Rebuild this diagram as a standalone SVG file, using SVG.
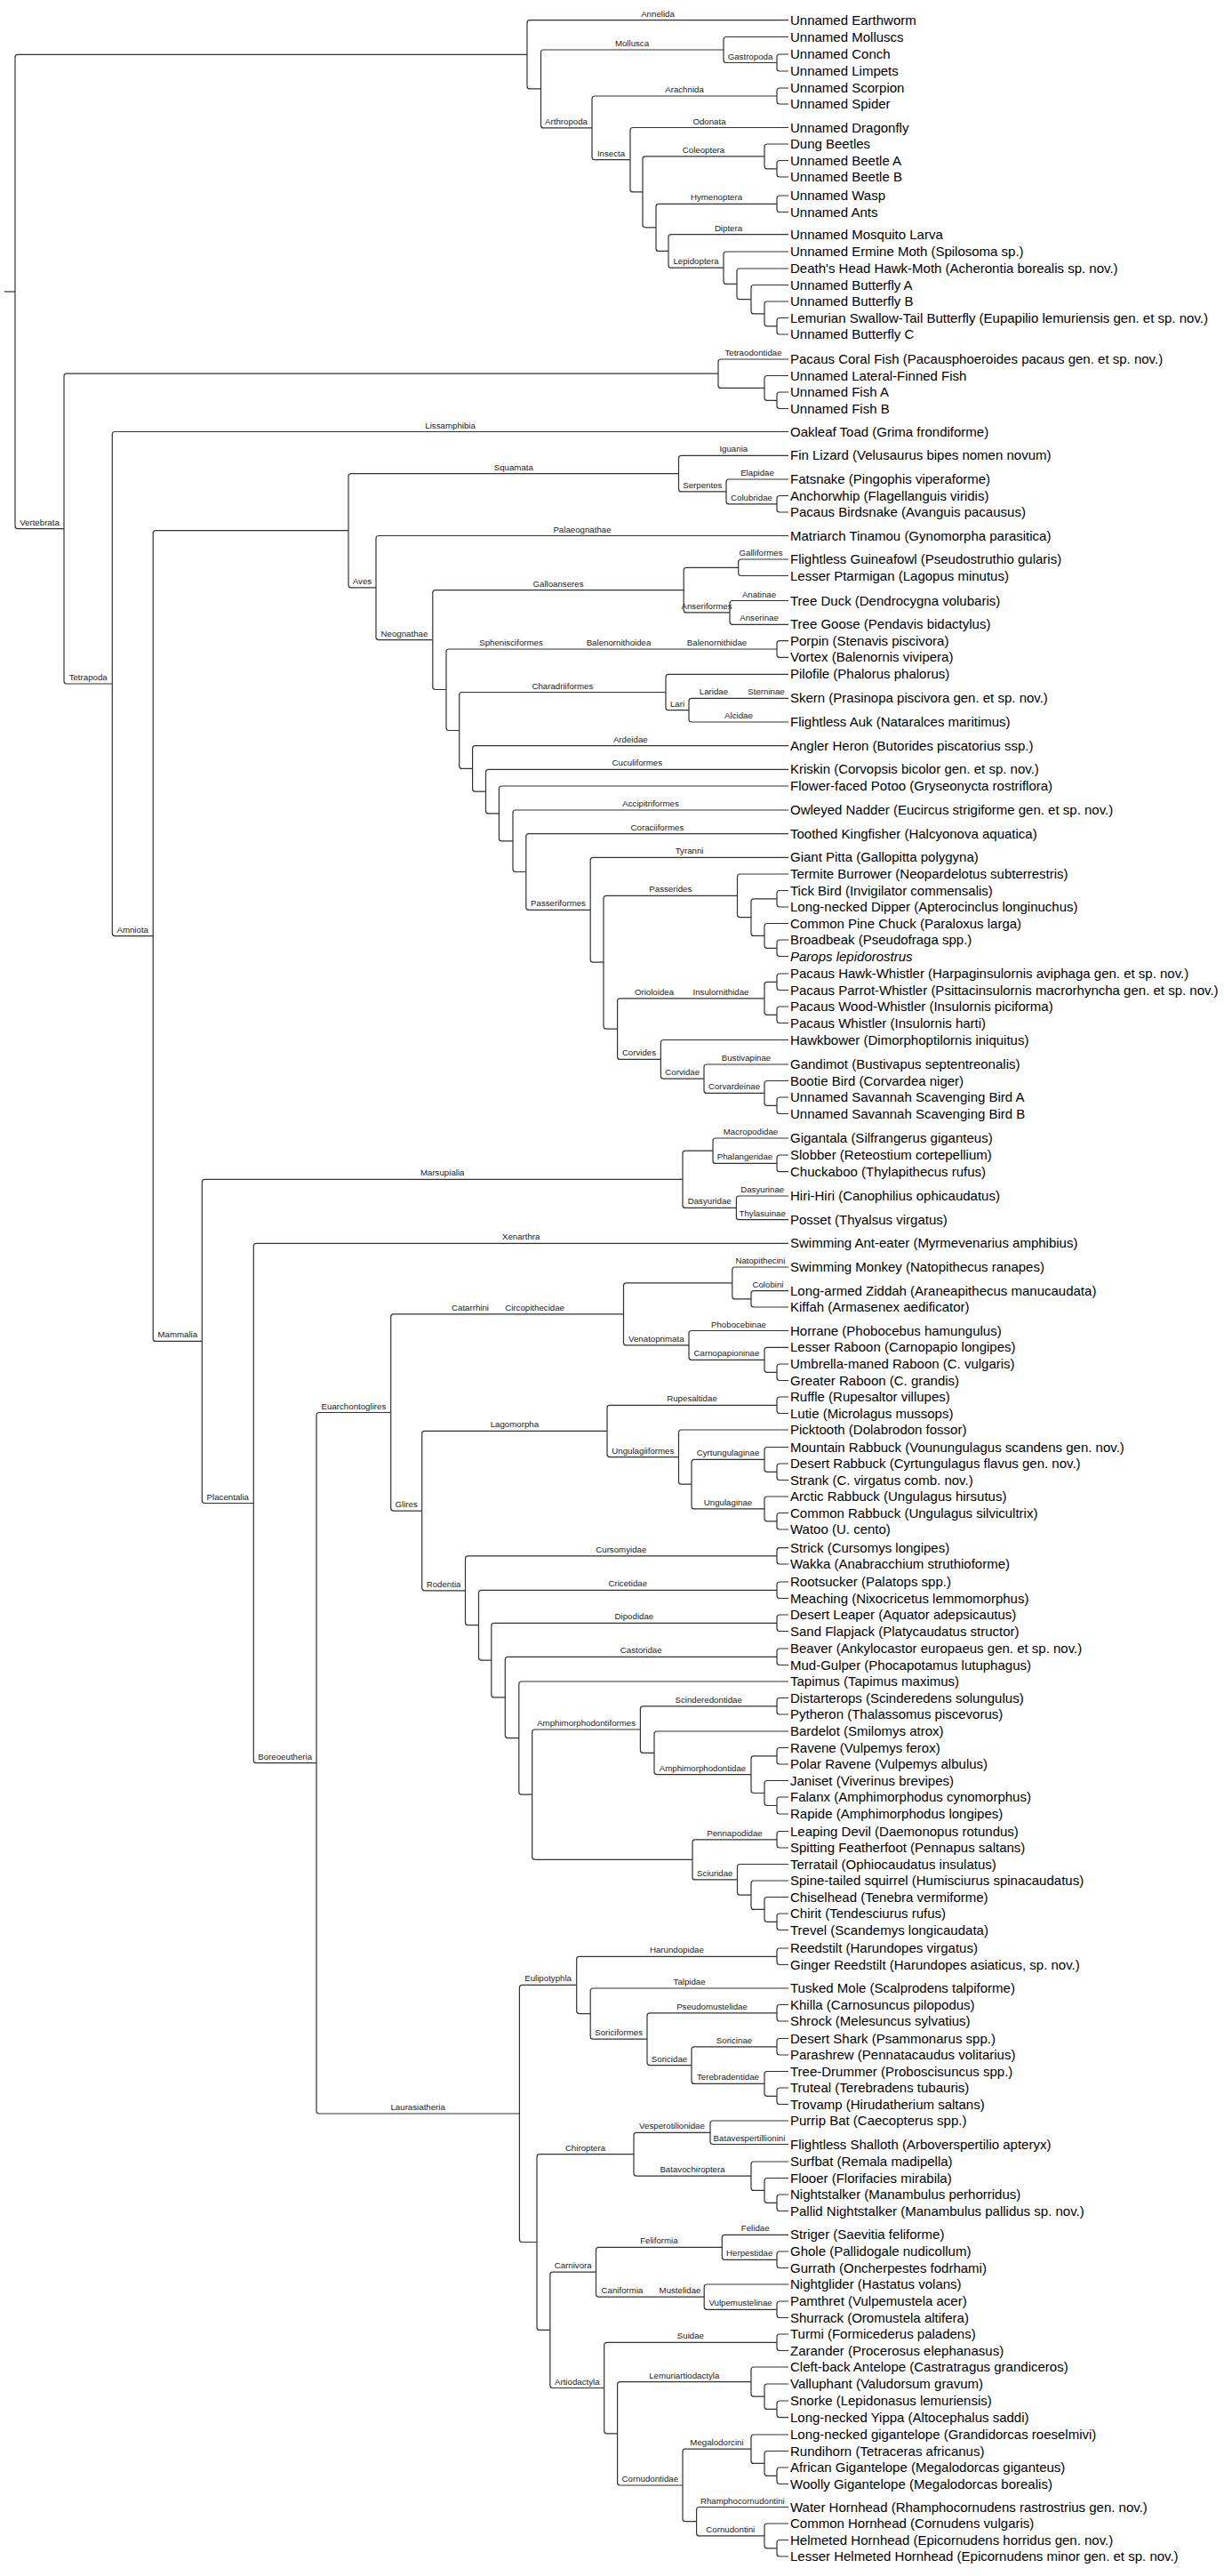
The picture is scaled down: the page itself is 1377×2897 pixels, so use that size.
<svg xmlns="http://www.w3.org/2000/svg" width="1377" height="2897" viewBox="0 0 1377 2897">
<style>
.c path{fill:none;stroke:#333;stroke-width:1.2}
.lf{font-family:"Liberation Sans",Arial,sans-serif;font-size:15px;fill:#000}
.lb{font-family:"Liberation Sans",Arial,sans-serif;font-size:9.7px;fill:#222;text-anchor:middle}
.it{font-style:italic}
</style>
<rect width="1377" height="2897" fill="#fff"/>
<g id="connectors" class="c">
<path d="M5 328H17"/>
<path d="M593 61.3H20Q17 61.3 17 64.3V591.6Q17 594.6 20 594.6H72"/>
<path d="M887 22.7H596Q593 22.7 593 25.7V96.9Q593 99.9 596 99.9H608.5"/>
<path d="M814 56H611.5Q608.5 56 608.5 59V140.9Q608.5 143.9 611.5 143.9H666"/>
<path d="M887 41.5H817Q814 41.5 814 44.5V67.5Q814 70.5 817 70.5H874"/>
<path d="M887 61H877Q874 61 874 64V77Q874 80 877 80H887"/>
<path d="M874 108H669Q666 108 666 111V176.7Q666 179.7 669 179.7H709"/>
<path d="M887 99H877Q874 99 874 102V114Q874 117 877 117H887"/>
<path d="M887 143.5H712Q709 143.5 709 146.5V212.9Q709 215.9 712 215.9H723"/>
<path d="M860 175.9H726Q723 175.9 723 178.9V252.8Q723 255.8 726 255.8H738"/>
<path d="M887 162H863Q860 162 860 165V186.8Q860 189.8 863 189.8H874"/>
<path d="M887 180.5H877Q874 180.5 874 183.5V196Q874 199 877 199H887"/>
<path d="M874 229.3H741Q738 229.3 738 232.3V279.4Q738 282.4 741 282.4H752"/>
<path d="M887 220H877Q874 220 874 223V235.5Q874 238.5 877 238.5H887"/>
<path d="M887 263.7H755Q752 263.7 752 266.7V298.2Q752 301.2 755 301.2H814"/>
<path d="M887 283H817Q814 283 814 286V316.4Q814 319.4 817 319.4H829"/>
<path d="M887 302H832Q829 302 829 305V333.7Q829 336.7 832 336.7H845"/>
<path d="M887 320.5H848Q845 320.5 845 323.5V349.9Q845 352.9 848 352.9H860"/>
<path d="M887 339H863Q860 339 860 342V363.8Q860 366.8 863 366.8H874"/>
<path d="M887 357.5H877Q874 357.5 874 360.5V373Q874 376 877 376H887"/>
<path d="M808 420.2H75Q72 420.2 72 423.2V766Q72 769 75 769H126.3"/>
<path d="M887 404H811Q808 404 808 407V433.4Q808 436.4 811 436.4H860"/>
<path d="M887 422.5H863Q860 422.5 860 425.5V447.3Q860 450.3 863 450.3H874"/>
<path d="M887 441H877Q874 441 874 444V456.5Q874 459.5 877 459.5H887"/>
<path d="M887 485.5H129.3Q126.3 485.5 126.3 488.5V1049.6Q126.3 1052.6 129.3 1052.6H172.2"/>
<path d="M392 596.7H175.2Q172.2 596.7 172.2 599.7V1505.4Q172.2 1508.4 175.2 1508.4H227.3"/>
<path d="M763.5 532.6H395Q392 532.6 392 535.6V657.8Q392 660.8 395 660.8H423"/>
<path d="M887 512.3H766.5Q763.5 512.3 763.5 515.3V549.9Q763.5 552.9 766.5 552.9H817"/>
<path d="M887 539H820Q817 539 817 542V563.8Q817 566.8 820 566.8H874"/>
<path d="M887 557.5H877Q874 557.5 874 560.5V573Q874 576 877 576H887"/>
<path d="M887 602.5H426Q423 602.5 423 605.5V716.6Q423 719.6 426 719.6H486.8"/>
<path d="M769.2 663.6H489.8Q486.8 663.6 486.8 666.6V772.5Q486.8 775.5 489.8 775.5H502"/>
<path d="M830.7 638.3H772.2Q769.2 638.3 769.2 641.3V685.9Q769.2 688.9 772.2 688.9H821"/>
<path d="M887 629H833.7Q830.7 629 830.7 632V644.5Q830.7 647.5 833.7 647.5H887"/>
<path d="M887 675.5H824Q821 675.5 821 678.5V699.3Q821 702.3 824 702.3H887"/>
<path d="M874 730H505Q502 730 502 733V818.5Q502 821.5 505 821.5H516.7"/>
<path d="M887 720.7H877Q874 720.7 874 723.7V736.3Q874 739.3 877 739.3H887"/>
<path d="M749 778.5H519.7Q516.7 778.5 516.7 781.5V861.4Q516.7 864.4 519.7 864.4H531.6"/>
<path d="M887 758.3H752Q749 758.3 749 761.3V795.7Q749 798.7 752 798.7H775"/>
<path d="M887 785.3H778Q775 785.3 775 788.3V809Q775 812 778 812H887"/>
<path d="M887 838.7H534.6Q531.6 838.7 531.6 841.7V887.1Q531.6 890.1 534.6 890.1H546.5"/>
<path d="M887 865.3H549.5Q546.5 865.3 546.5 868.3V911.9Q546.5 914.9 549.5 914.9H561.4"/>
<path d="M887 884H564.4Q561.4 884 561.4 887V942.8Q561.4 945.8 564.4 945.8H577"/>
<path d="M887 911H580Q577 911 577 914V977.5Q577 980.5 580 980.5H591.8"/>
<path d="M887 937.7H594.8Q591.8 937.7 591.8 940.7V1020.3Q591.8 1023.3 594.8 1023.3H664.2"/>
<path d="M887 964.3H667.2Q664.2 964.3 664.2 967.3V1079.2Q664.2 1082.2 667.2 1082.2H679"/>
<path d="M829.5 1007.3H682Q679 1007.3 679 1010.3V1154.1Q679 1157.1 682 1157.1H694.6"/>
<path d="M887 983H832.5Q829.5 983 829.5 986V1028.6Q829.5 1031.6 832.5 1031.6H845"/>
<path d="M874 1010.8H848Q845 1010.8 845 1013.8V1049.4Q845 1052.4 848 1052.4H860"/>
<path d="M887 1001.5H877Q874 1001.5 874 1004.5V1017Q874 1020 877 1020H887"/>
<path d="M887 1038.5H863Q860 1038.5 860 1041.5V1063.3Q860 1066.3 863 1066.3H874"/>
<path d="M887 1057H877Q874 1057 874 1060V1072.5Q874 1075.5 877 1075.5H887"/>
<path d="M860 1122.8H697.6Q694.6 1122.8 694.6 1125.8V1188.4Q694.6 1191.4 697.6 1191.4H743.4"/>
<path d="M874 1104.3H863Q860 1104.3 860 1107.3V1138.3Q860 1141.3 863 1141.3H874"/>
<path d="M887 1095H877Q874 1095 874 1098V1110.5Q874 1113.5 877 1113.5H887"/>
<path d="M887 1132H877Q874 1132 874 1135V1147.5Q874 1150.5 877 1150.5H887"/>
<path d="M887 1169.5H746.4Q743.4 1169.5 743.4 1172.5V1210.2Q743.4 1213.2 746.4 1213.2H792"/>
<path d="M887 1197H795Q792 1197 792 1200V1226.4Q792 1229.4 795 1229.4H860"/>
<path d="M887 1215.5H863Q860 1215.5 860 1218.5V1240.3Q860 1243.3 863 1243.3H874"/>
<path d="M887 1234H877Q874 1234 874 1237V1249.5Q874 1252.5 877 1252.5H887"/>
<path d="M768 1326.3H230.3Q227.3 1326.3 227.3 1329.3V1687.5Q227.3 1690.5 230.3 1690.5H285.3"/>
<path d="M802 1294.2H771Q768 1294.2 768 1297.2V1355.4Q768 1358.4 771 1358.4H828.4"/>
<path d="M887 1280H805Q802 1280 802 1283V1305.4Q802 1308.4 805 1308.4H874"/>
<path d="M887 1299H877Q874 1299 874 1302V1314.7Q874 1317.7 877 1317.7H887"/>
<path d="M887 1345H831.4Q828.4 1345 828.4 1348V1368.7Q828.4 1371.7 831.4 1371.7H887"/>
<path d="M887 1398.3H288.3Q285.3 1398.3 285.3 1401.3V1979.7Q285.3 1982.7 288.3 1982.7H356"/>
<path d="M439.7 1588.5H359Q356 1588.5 356 1591.5V2374Q356 2377 359 2377H584.4"/>
<path d="M701.5 1477.9H442.7Q439.7 1477.9 439.7 1480.9V1696.1Q439.7 1699.1 442.7 1699.1H474.7"/>
<path d="M823.8 1442.9H704.5Q701.5 1442.9 701.5 1445.9V1509.9Q701.5 1512.9 704.5 1512.9H775"/>
<path d="M887 1425H826.8Q823.8 1425 823.8 1428V1457.9Q823.8 1460.9 826.8 1460.9H845"/>
<path d="M887 1451.7H848Q845 1451.7 845 1454.7V1467Q845 1470 848 1470H887"/>
<path d="M887 1496.5H778Q775 1496.5 775 1499.5V1526.3Q775 1529.3 778 1529.3H860"/>
<path d="M887 1515.3H863Q860 1515.3 860 1518.3V1540.3Q860 1543.3 863 1543.3H874"/>
<path d="M887 1534H877Q874 1534 874 1537V1549.5Q874 1552.5 877 1552.5H887"/>
<path d="M683 1609.4H477.7Q474.7 1609.4 474.7 1612.4V1785.8Q474.7 1788.8 477.7 1788.8H523.5"/>
<path d="M874 1580.3H686Q683 1580.3 683 1583.3V1635.6Q683 1638.6 686 1638.6H763.5"/>
<path d="M887 1571H877Q874 1571 874 1574V1586.5Q874 1589.5 877 1589.5H887"/>
<path d="M887 1608H766.5Q763.5 1608 763.5 1611V1666.2Q763.5 1669.2 766.5 1669.2H778"/>
<path d="M860 1641.4H781Q778 1641.4 778 1644.4V1693.9Q778 1696.9 781 1696.9H860"/>
<path d="M887 1627.5H863Q860 1627.5 860 1630.5V1652.3Q860 1655.3 863 1655.3H874"/>
<path d="M887 1646H877Q874 1646 874 1649V1661.5Q874 1664.5 877 1664.5H887"/>
<path d="M887 1683H863Q860 1683 860 1686V1707.8Q860 1710.8 863 1710.8H874"/>
<path d="M887 1701.5H877Q874 1701.5 874 1704.5V1717Q874 1720 877 1720H887"/>
<path d="M874 1749.9H526.5Q523.5 1749.9 523.5 1752.9V1824.7Q523.5 1827.7 526.5 1827.7H538.5"/>
<path d="M887 1740.7H877Q874 1740.7 874 1743.7V1756Q874 1759 877 1759H887"/>
<path d="M874 1788.3H541.5Q538.5 1788.3 538.5 1791.3V1864.1Q538.5 1867.1 541.5 1867.1H552.8"/>
<path d="M887 1779H877Q874 1779 874 1782V1794.5Q874 1797.5 877 1797.5H887"/>
<path d="M874 1825.3H555.8Q552.8 1825.3 552.8 1828.3V1905.9Q552.8 1908.9 555.8 1908.9H568.3"/>
<path d="M887 1816H877Q874 1816 874 1819V1831.5Q874 1834.5 877 1834.5H887"/>
<path d="M874 1863.3H571.3Q568.3 1863.3 568.3 1866.3V1951.6Q568.3 1954.6 571.3 1954.6H583.8"/>
<path d="M887 1854H877Q874 1854 874 1857V1869.5Q874 1872.5 877 1872.5H887"/>
<path d="M887 1891H586.8Q583.8 1891 583.8 1894V2015.2Q583.8 2018.2 586.8 2018.2H598.7"/>
<path d="M720.4 1945H601.7Q598.7 1945 598.7 1948V2088.3Q598.7 2091.3 601.7 2091.3H779"/>
<path d="M874 1918.8H723.4Q720.4 1918.8 720.4 1921.8V1968.3Q720.4 1971.3 723.4 1971.3H736"/>
<path d="M887 1909.5H877Q874 1909.5 874 1912.5V1925Q874 1928 877 1928H887"/>
<path d="M887 1947H739Q736 1947 736 1950V1992.6Q736 1995.6 739 1995.6H845"/>
<path d="M874 1974.8H848Q845 1974.8 845 1977.8V2013.5Q845 2016.5 848 2016.5H860"/>
<path d="M887 1965.5H877Q874 1965.5 874 1968.5V1981Q874 1984 877 1984H887"/>
<path d="M887 2002.5H863Q860 2002.5 860 2005.5V2027.5Q860 2030.5 863 2030.5H874"/>
<path d="M887 2021H877Q874 2021 874 2024V2037Q874 2040 877 2040H887"/>
<path d="M874 2068.8H782Q779 2068.8 779 2071.8V2110.9Q779 2113.9 782 2113.9H829.5"/>
<path d="M887 2059.5H877Q874 2059.5 874 2062.5V2075Q874 2078 877 2078H887"/>
<path d="M887 2096.5H832.5Q829.5 2096.5 829.5 2099.5V2128.2Q829.5 2131.2 832.5 2131.2H845"/>
<path d="M887 2115H848Q845 2115 845 2118V2144.4Q845 2147.4 848 2147.4H860"/>
<path d="M887 2133.5H863Q860 2133.5 860 2136.5V2158.3Q860 2161.3 863 2161.3H874"/>
<path d="M887 2152H877Q874 2152 874 2155V2167.5Q874 2170.5 877 2170.5H887"/>
<path d="M648.7 2232.4H587.4Q584.4 2232.4 584.4 2235.4V2518.5Q584.4 2521.5 587.4 2521.5H604"/>
<path d="M874 2200.3H651.7Q648.7 2200.3 648.7 2203.3V2261.6Q648.7 2264.6 651.7 2264.6H664.2"/>
<path d="M887 2191H877Q874 2191 874 2194V2206.5Q874 2209.5 877 2209.5H887"/>
<path d="M887 2236H667.2Q664.2 2236 664.2 2239V2290.2Q664.2 2293.2 667.2 2293.2H728"/>
<path d="M874 2263.8H731Q728 2263.8 728 2266.8V2319.6Q728 2322.6 731 2322.6H778"/>
<path d="M887 2254.5H877Q874 2254.5 874 2257.5V2270Q874 2273 877 2273H887"/>
<path d="M874 2301.8H781Q778 2301.8 778 2304.8V2340.4Q778 2343.4 781 2343.4H860"/>
<path d="M887 2292.5H877Q874 2292.5 874 2295.5V2308Q874 2311 877 2311H887"/>
<path d="M887 2329.5H863Q860 2329.5 860 2332.5V2354.3Q860 2357.3 863 2357.3H874"/>
<path d="M887 2348H877Q874 2348 874 2351V2363.5Q874 2366.5 877 2366.5H887"/>
<path d="M713 2422.7H607Q604 2422.7 604 2425.7V2617.4Q604 2620.4 607 2620.4H618.8"/>
<path d="M799 2398.3H716Q713 2398.3 713 2401.3V2444.2Q713 2447.2 716 2447.2H845"/>
<path d="M887 2385H802Q799 2385 799 2388V2408.5Q799 2411.5 802 2411.5H887"/>
<path d="M887 2431H848Q845 2431 845 2434V2460.4Q845 2463.4 848 2463.4H860"/>
<path d="M887 2449.5H863Q860 2449.5 860 2452.5V2474.3Q860 2477.3 863 2477.3H874"/>
<path d="M887 2468H877Q874 2468 874 2471V2483.5Q874 2486.5 877 2486.5H887"/>
<path d="M670.5 2555.2H621.8Q618.8 2555.2 618.8 2558.2V2682.5Q618.8 2685.5 621.8 2685.5H679.7"/>
<path d="M812.3 2527.3H673.5Q670.5 2527.3 670.5 2530.3V2580.1Q670.5 2583.1 673.5 2583.1H792.2"/>
<path d="M887 2513.3H815.3Q812.3 2513.3 812.3 2516.3V2538.3Q812.3 2541.3 815.3 2541.3H874"/>
<path d="M887 2532H877Q874 2532 874 2535V2547.5Q874 2550.5 877 2550.5H887"/>
<path d="M887 2569H795.2Q792.2 2569 792.2 2572V2594.3Q792.2 2597.3 795.2 2597.3H874"/>
<path d="M887 2588H877Q874 2588 874 2591V2603.5Q874 2606.5 877 2606.5H887"/>
<path d="M874 2634.3H682.7Q679.7 2634.3 679.7 2637.3V2733.8Q679.7 2736.8 682.7 2736.8H694.6"/>
<path d="M887 2625H877Q874 2625 874 2628V2640.5Q874 2643.5 877 2643.5H887"/>
<path d="M845 2678.6H697.6Q694.6 2678.6 694.6 2681.6V2792Q694.6 2795 697.6 2795H768"/>
<path d="M887 2662H848Q845 2662 845 2665V2692.2Q845 2695.2 848 2695.2H860"/>
<path d="M887 2681H863Q860 2681 860 2684V2706.4Q860 2709.4 863 2709.4H874"/>
<path d="M887 2700H877Q874 2700 874 2703V2715.7Q874 2718.7 877 2718.7H887"/>
<path d="M845 2754.2H771Q768 2754.2 768 2757.2V2832.7Q768 2835.7 771 2835.7H783.6"/>
<path d="M887 2738H848Q845 2738 845 2741V2767.4Q845 2770.4 848 2770.4H860"/>
<path d="M887 2756.5H863Q860 2756.5 860 2759.5V2781.3Q860 2784.3 863 2784.3H874"/>
<path d="M887 2775H877Q874 2775 874 2778V2790.5Q874 2793.5 877 2793.5H887"/>
<path d="M887 2819.5H786.6Q783.6 2819.5 783.6 2822.5V2848.9Q783.6 2851.9 786.6 2851.9H860"/>
<path d="M887 2838H863Q860 2838 860 2841V2862.8Q860 2865.8 863 2865.8H874"/>
<path d="M887 2856.5H877Q874 2856.5 874 2859.5V2872Q874 2875 877 2875H887"/>
</g>
<g id="clade-labels">
<g id="c-annelida"><text class="lb" x="740" y="18.7">Annelida</text></g>
<g id="c-mollusca"><text class="lb" x="711" y="52">Mollusca</text></g>
<g id="c-gastropoda"><text class="lb" x="844" y="66.5">Gastropoda</text></g>
<g id="c-arthropoda"><text class="lb" x="637" y="139.9">Arthropoda</text></g>
<g id="c-arachnida"><text class="lb" x="770" y="104">Arachnida</text></g>
<g id="c-insecta"><text class="lb" x="687.5" y="175.7">Insecta</text></g>
<g id="c-odonata"><text class="lb" x="798" y="139.5">Odonata</text></g>
<g id="c-coleoptera"><text class="lb" x="791.5" y="171.9">Coleoptera</text></g>
<g id="c-hymenoptera"><text class="lb" x="806" y="225.3">Hymenoptera</text></g>
<g id="c-diptera"><text class="lb" x="819.5" y="259.7">Diptera</text></g>
<g id="c-lepidoptera"><text class="lb" x="783" y="297.2">Lepidoptera</text></g>
<g id="c-tetraodontidae"><text class="lb" x="847.5" y="400">Tetraodontidae</text></g>
<g id="c-vertebrata"><text class="lb" x="44.5" y="590.6">Vertebrata</text></g>
<g id="c-lissamphibia"><text class="lb" x="506.6" y="481.5">Lissamphibia</text></g>
<g id="c-tetrapoda"><text class="lb" x="99.2" y="765">Tetrapoda</text></g>
<g id="c-amniota"><text class="lb" x="149.2" y="1048.6">Amniota</text></g>
<g id="c-squamata"><text class="lb" x="577.8" y="528.6">Squamata</text></g>
<g id="c-iguania"><text class="lb" x="825.3" y="508.3">Iguania</text></g>
<g id="c-serpentes"><text class="lb" x="790.3" y="548.9">Serpentes</text></g>
<g id="c-elapidae"><text class="lb" x="852" y="535">Elapidae</text></g>
<g id="c-colubridae"><text class="lb" x="845.5" y="562.8">Colubridae</text></g>
<g id="c-aves"><text class="lb" x="407.5" y="656.8">Aves</text></g>
<g id="c-palaeognathae"><text class="lb" x="655" y="598.5">Palaeognathae</text></g>
<g id="c-neognathae"><text class="lb" x="454.9" y="715.6">Neognathae</text></g>
<g id="c-galloanseres"><text class="lb" x="628" y="659.6">Galloanseres</text></g>
<g id="c-galliformes"><text class="lb" x="856" y="625">Galliformes</text></g>
<g id="c-anseriformes"><text class="lb" x="795" y="684.9">Anseriformes</text></g>
<g id="c-anatinae"><text class="lb" x="854" y="671.5">Anatinae</text></g>
<g id="c-anserinae"><text class="lb" x="854" y="698.3">Anserinae</text></g>
<g id="c-sphenisciformes"><text class="lb" x="575" y="726">Sphenisciformes</text></g>
<g id="c-balenornithoidea"><text class="lb" x="696" y="726">Balenornithoidea</text></g>
<g id="c-balenornithidae"><text class="lb" x="806.5" y="726">Balenornithidae</text></g>
<g id="c-charadriiformes"><text class="lb" x="632.9" y="774.5">Charadriiformes</text></g>
<g id="c-lari"><text class="lb" x="762" y="794.7">Lari</text></g>
<g id="c-laridae"><text class="lb" x="803" y="781.3">Laridae</text></g>
<g id="c-sterninae"><text class="lb" x="862" y="781.3">Sterninae</text></g>
<g id="c-alcidae"><text class="lb" x="831" y="808">Alcidae</text></g>
<g id="c-ardeidae"><text class="lb" x="709.3" y="834.7">Ardeidae</text></g>
<g id="c-cuculiformes"><text class="lb" x="716.8" y="861.3">Cuculiformes</text></g>
<g id="c-accipitriformes"><text class="lb" x="732" y="907">Accipitriformes</text></g>
<g id="c-coraciiformes"><text class="lb" x="739.4" y="933.7">Coraciiformes</text></g>
<g id="c-passeriformes"><text class="lb" x="628" y="1019.3">Passeriformes</text></g>
<g id="c-tyranni"><text class="lb" x="775.6" y="960.3">Tyranni</text></g>
<g id="c-passerides"><text class="lb" x="754.3" y="1003.3">Passerides</text></g>
<g id="c-orioloidea"><text class="lb" x="736" y="1118.8">Orioloidea</text></g>
<g id="c-insulornithidae"><text class="lb" x="811" y="1118.8">Insulornithidae</text></g>
<g id="c-corvides"><text class="lb" x="719" y="1187.4">Corvides</text></g>
<g id="c-corvidae"><text class="lb" x="767.7" y="1209.2">Corvidae</text></g>
<g id="c-bustivapinae"><text class="lb" x="839.5" y="1193">Bustivapinae</text></g>
<g id="c-corvardeinae"><text class="lb" x="826" y="1225.4">Corvardeinae</text></g>
<g id="c-mammalia"><text class="lb" x="199.8" y="1504.4">Mammalia</text></g>
<g id="c-marsupialia"><text class="lb" x="497.7" y="1322.3">Marsupialia</text></g>
<g id="c-macropodidae"><text class="lb" x="844.5" y="1276">Macropodidae</text></g>
<g id="c-phalangeridae"><text class="lb" x="838" y="1304.4">Phalangeridae</text></g>
<g id="c-dasyuridae"><text class="lb" x="798.2" y="1354.4">Dasyuridae</text></g>
<g id="c-dasyurinae"><text class="lb" x="857.7" y="1341">Dasyurinae</text></g>
<g id="c-thylasuinae"><text class="lb" x="857.7" y="1367.7">Thylasuinae</text></g>
<g id="c-placentalia"><text class="lb" x="256.3" y="1686.5">Placentalia</text></g>
<g id="c-xenarthra"><text class="lb" x="586.2" y="1394.3">Xenarthra</text></g>
<g id="c-boreoeutheria"><text class="lb" x="320.7" y="1978.7">Boreoeutheria</text></g>
<g id="c-euarchontoglires"><text class="lb" x="397.9" y="1584.5">Euarchontoglires</text></g>
<g id="c-catarrhini"><text class="lb" x="529" y="1473.9">Catarrhini</text></g>
<g id="c-circopithecidae"><text class="lb" x="601.6" y="1473.9">Circopithecidae</text></g>
<g id="c-natopithecini"><text class="lb" x="855.4" y="1421">Natopithecini</text></g>
<g id="c-colobini"><text class="lb" x="864" y="1447.7">Colobini</text></g>
<g id="c-venatoprimata"><text class="lb" x="738.3" y="1508.9">Venatoprimata</text></g>
<g id="c-phobocebinae"><text class="lb" x="831" y="1492.5">Phobocebinae</text></g>
<g id="c-carnopapioninae"><text class="lb" x="817.5" y="1525.3">Carnopapioninae</text></g>
<g id="c-glires"><text class="lb" x="457.2" y="1695.1">Glires</text></g>
<g id="c-lagomorpha"><text class="lb" x="578.9" y="1605.4">Lagomorpha</text></g>
<g id="c-rupesaltidae"><text class="lb" x="778.5" y="1576.3">Rupesaltidae</text></g>
<g id="c-ungulagiiformes"><text class="lb" x="723.3" y="1634.6">Ungulagiiformes</text></g>
<g id="c-cyrtungulaginae"><text class="lb" x="819" y="1637.4">Cyrtungulaginae</text></g>
<g id="c-ungulaginae"><text class="lb" x="819" y="1692.9">Ungulaginae</text></g>
<g id="c-rodentia"><text class="lb" x="499.1" y="1784.8">Rodentia</text></g>
<g id="c-cursomyidae"><text class="lb" x="698.8" y="1745.9">Cursomyidae</text></g>
<g id="c-cricetidae"><text class="lb" x="706.3" y="1784.3">Cricetidae</text></g>
<g id="c-dipodidae"><text class="lb" x="713.4" y="1821.3">Dipodidae</text></g>
<g id="c-castoridae"><text class="lb" x="721.2" y="1859.3">Castoridae</text></g>
<g id="c-amphimorphodontiformes"><text class="lb" x="659.6" y="1941">Amphimorphodontiformes</text></g>
<g id="c-scinderedontidae"><text class="lb" x="797.2" y="1914.8">Scinderedontidae</text></g>
<g id="c-amphimorphodontidae"><text class="lb" x="790.5" y="1991.6">Amphimorphodontidae</text></g>
<g id="c-pennapodidae"><text class="lb" x="826.5" y="2064.8">Pennapodidae</text></g>
<g id="c-sciuridae"><text class="lb" x="804.3" y="2109.9">Sciuridae</text></g>
<g id="c-laurasiatheria"><text class="lb" x="470.2" y="2373">Laurasiatheria</text></g>
<g id="c-eulipotyphla"><text class="lb" x="616.6" y="2228.4">Eulipotyphla</text></g>
<g id="c-harundopidae"><text class="lb" x="761.4" y="2196.3">Harundopidae</text></g>
<g id="c-talpidae"><text class="lb" x="775.6" y="2232">Talpidae</text></g>
<g id="c-soriciformes"><text class="lb" x="696.1" y="2289.2">Soriciformes</text></g>
<g id="c-pseudomustelidae"><text class="lb" x="801" y="2259.8">Pseudomustelidae</text></g>
<g id="c-soricidae"><text class="lb" x="753" y="2318.6">Soricidae</text></g>
<g id="c-soricinae"><text class="lb" x="826" y="2297.8">Soricinae</text></g>
<g id="c-terebradentidae"><text class="lb" x="819" y="2339.4">Terebradentidae</text></g>
<g id="c-chiroptera"><text class="lb" x="658.5" y="2418.7">Chiroptera</text></g>
<g id="c-vesperotilionidae"><text class="lb" x="756" y="2394.3">Vesperotilionidae</text></g>
<g id="c-batavespertillionini"><text class="lb" x="843" y="2407.5">Batavespertillionini</text></g>
<g id="c-batavochiroptera"><text class="lb" x="779" y="2443.2">Batavochiroptera</text></g>
<g id="c-carnivora"><text class="lb" x="644.7" y="2551.2">Carnivora</text></g>
<g id="c-feliformia"><text class="lb" x="741.4" y="2523.3">Feliformia</text></g>
<g id="c-felidae"><text class="lb" x="849.7" y="2509.3">Felidae</text></g>
<g id="c-herpestidae"><text class="lb" x="843.2" y="2537.3">Herpestidae</text></g>
<g id="c-caniformia"><text class="lb" x="700" y="2579.1">Caniformia</text></g>
<g id="c-mustelidae"><text class="lb" x="765" y="2579.1">Mustelidae</text></g>
<g id="c-vulpemustelinae"><text class="lb" x="833.1" y="2593.3">Vulpemustelinae</text></g>
<g id="c-artiodactyla"><text class="lb" x="649.3" y="2681.5">Artiodactyla</text></g>
<g id="c-suidae"><text class="lb" x="776.9" y="2630.3">Suidae</text></g>
<g id="c-lemuriartiodactyla"><text class="lb" x="769.8" y="2674.6">Lemuriartiodactyla</text></g>
<g id="c-cornudontidae"><text class="lb" x="731.3" y="2791">Cornudontidae</text></g>
<g id="c-megalodorcini"><text class="lb" x="806.5" y="2750.2">Megalodorcini</text></g>
<g id="c-rhamphocornudontini"><text class="lb" x="835.3" y="2815.5">Rhamphocornudontini</text></g>
<g id="c-cornudontini"><text class="lb" x="821.8" y="2847.9">Cornudontini</text></g>
</g>
<g id="leaves" class="lf">
<g id="t1"><text x="889" y="27.7">Unnamed Earthworm</text></g>
<g id="t2"><text x="889" y="46.5">Unnamed Molluscs</text></g>
<g id="t3"><text x="889" y="66">Unnamed Conch</text></g>
<g id="t4"><text x="889" y="85">Unnamed Limpets</text></g>
<g id="t5"><text x="889" y="104">Unnamed Scorpion</text></g>
<g id="t6"><text x="889" y="122">Unnamed Spider</text></g>
<g id="t7"><text x="889" y="148.5">Unnamed Dragonfly</text></g>
<g id="t8"><text x="889" y="167">Dung Beetles</text></g>
<g id="t9"><text x="889" y="185.5">Unnamed Beetle A</text></g>
<g id="t10"><text x="889" y="204">Unnamed Beetle B</text></g>
<g id="t11"><text x="889" y="225">Unnamed Wasp</text></g>
<g id="t12"><text x="889" y="243.5">Unnamed Ants</text></g>
<g id="t13"><text x="889" y="268.7">Unnamed Mosquito Larva</text></g>
<g id="t14"><text x="889" y="288">Unnamed Ermine Moth (Spilosoma sp.)</text></g>
<g id="t15"><text x="889" y="307">Death's Head Hawk-Moth (Acherontia borealis sp. nov.)</text></g>
<g id="t16"><text x="889" y="325.5">Unnamed Butterfly A</text></g>
<g id="t17"><text x="889" y="344">Unnamed Butterfly B</text></g>
<g id="t18"><text x="889" y="362.5">Lemurian Swallow-Tail Butterfly (Eupapilio lemuriensis gen. et sp. nov.)</text></g>
<g id="t19"><text x="889" y="381">Unnamed Butterfly C</text></g>
<g id="t20"><text x="889" y="409">Pacaus Coral Fish (Pacausphoeroides pacaus gen. et sp. nov.)</text></g>
<g id="t21"><text x="889" y="427.5">Unnamed Lateral-Finned Fish</text></g>
<g id="t22"><text x="889" y="446">Unnamed Fish A</text></g>
<g id="t23"><text x="889" y="464.5">Unnamed Fish B</text></g>
<g id="t24"><text x="889" y="490.5">Oakleaf Toad (Grima frondiforme)</text></g>
<g id="t25"><text x="889" y="517.3">Fin Lizard (Velusaurus bipes nomen novum)</text></g>
<g id="t26"><text x="889" y="544">Fatsnake (Pingophis viperaforme)</text></g>
<g id="t27"><text x="889" y="562.5">Anchorwhip (Flagellanguis viridis)</text></g>
<g id="t28"><text x="889" y="581">Pacaus Birdsnake (Avanguis pacausus)</text></g>
<g id="t29"><text x="889" y="607.5">Matriarch Tinamou (Gynomorpha parasitica)</text></g>
<g id="t30"><text x="889" y="634">Flightless Guineafowl (Pseudostruthio gularis)</text></g>
<g id="t31"><text x="889" y="652.5">Lesser Ptarmigan (Lagopus minutus)</text></g>
<g id="t32"><text x="889" y="680.5">Tree Duck (Dendrocygna volubaris)</text></g>
<g id="t33"><text x="889" y="707.3">Tree Goose (Pendavis bidactylus)</text></g>
<g id="t34"><text x="889" y="725.7">Porpin (Stenavis piscivora)</text></g>
<g id="t35"><text x="889" y="744.3">Vortex (Balenornis vivipera)</text></g>
<g id="t36"><text x="889" y="763.3">Pilofile (Phalorus phalorus)</text></g>
<g id="t37"><text x="889" y="790.3">Skern (Prasinopa piscivora gen. et sp. nov.)</text></g>
<g id="t38"><text x="889" y="817">Flightless Auk (Nataralces maritimus)</text></g>
<g id="t39"><text x="889" y="843.7">Angler Heron (Butorides piscatorius ssp.)</text></g>
<g id="t40"><text x="889" y="870.3">Kriskin (Corvopsis bicolor gen. et sp. nov.)</text></g>
<g id="t41"><text x="889" y="889">Flower-faced Potoo (Gryseonycta rostriflora)</text></g>
<g id="t42"><text x="889" y="916">Owleyed Nadder (Eucircus strigiforme gen. et sp. nov.)</text></g>
<g id="t43"><text x="889" y="942.7">Toothed Kingfisher (Halcyonova aquatica)</text></g>
<g id="t44"><text x="889" y="969.3">Giant Pitta (Gallopitta polygyna)</text></g>
<g id="t45"><text x="889" y="988">Termite Burrower (Neopardelotus subterrestris)</text></g>
<g id="t46"><text x="889" y="1006.5">Tick Bird (Invigilator commensalis)</text></g>
<g id="t47"><text x="889" y="1025">Long-necked Dipper (Apterocinclus longinuchus)</text></g>
<g id="t48"><text x="889" y="1043.5">Common Pine Chuck (Paraloxus larga)</text></g>
<g id="t49"><text x="889" y="1062">Broadbeak (Pseudofraga spp.)</text></g>
<g id="t50"><text class="it" x="889" y="1080.5">Parops lepidorostrus</text></g>
<g id="t51"><text x="889" y="1100">Pacaus Hawk-Whistler (Harpaginsulornis aviphaga gen. et sp. nov.)</text></g>
<g id="t52"><text x="889" y="1118.5">Pacaus Parrot-Whistler (Psittacinsulornis macrorhyncha gen. et sp. nov.)</text></g>
<g id="t53"><text x="889" y="1137">Pacaus Wood-Whistler (Insulornis piciforma)</text></g>
<g id="t54"><text x="889" y="1155.5">Pacaus Whistler (Insulornis harti)</text></g>
<g id="t55"><text x="889" y="1174.5">Hawkbower (Dimorphoptilornis iniquitus)</text></g>
<g id="t56"><text x="889" y="1202">Gandimot (Bustivapus septentreonalis)</text></g>
<g id="t57"><text x="889" y="1220.5">Bootie Bird (Corvardea niger)</text></g>
<g id="t58"><text x="889" y="1239">Unnamed Savannah Scavenging Bird A</text></g>
<g id="t59"><text x="889" y="1257.5">Unnamed Savannah Scavenging Bird B</text></g>
<g id="t60"><text x="889" y="1285">Gigantala (Silfrangerus giganteus)</text></g>
<g id="t61"><text x="889" y="1304">Slobber (Reteostium cortepellium)</text></g>
<g id="t62"><text x="889" y="1322.7">Chuckaboo (Thylapithecus rufus)</text></g>
<g id="t63"><text x="889" y="1350">Hiri-Hiri (Canophilius ophicaudatus)</text></g>
<g id="t64"><text x="889" y="1376.7">Posset (Thyalsus virgatus)</text></g>
<g id="t65"><text x="889" y="1403.3">Swimming Ant-eater (Myrmevenarius amphibius)</text></g>
<g id="t66"><text x="889" y="1430">Swimming Monkey (Natopithecus ranapes)</text></g>
<g id="t67"><text x="889" y="1456.7">Long-armed Ziddah (Araneapithecus manucaudata)</text></g>
<g id="t68"><text x="889" y="1475">Kiffah (Armasenex aedificator)</text></g>
<g id="t69"><text x="889" y="1501.5">Horrane (Phobocebus hamungulus)</text></g>
<g id="t70"><text x="889" y="1520.3">Lesser Raboon (Carnopapio longipes)</text></g>
<g id="t71"><text x="889" y="1539">Umbrella-maned Raboon (C. vulgaris)</text></g>
<g id="t72"><text x="889" y="1557.5">Greater Raboon (C. grandis)</text></g>
<g id="t73"><text x="889" y="1576">Ruffle (Rupesaltor villupes)</text></g>
<g id="t74"><text x="889" y="1594.5">Lutie (Microlagus mussops)</text></g>
<g id="t75"><text x="889" y="1613">Picktooth (Dolabrodon fossor)</text></g>
<g id="t76"><text x="889" y="1632.5">Mountain Rabbuck (Vounungulagus scandens gen. nov.)</text></g>
<g id="t77"><text x="889" y="1651">Desert Rabbuck (Cyrtungulagus flavus gen. nov.)</text></g>
<g id="t78"><text x="889" y="1669.5">Strank (C. virgatus comb. nov.)</text></g>
<g id="t79"><text x="889" y="1688">Arctic Rabbuck (Ungulagus hirsutus)</text></g>
<g id="t80"><text x="889" y="1706.5">Common Rabbuck (Ungulagus silvicultrix)</text></g>
<g id="t81"><text x="889" y="1725">Watoo (U. cento)</text></g>
<g id="t82"><text x="889" y="1745.7">Strick (Cursomys longipes)</text></g>
<g id="t83"><text x="889" y="1764">Wakka (Anabracchium struthioforme)</text></g>
<g id="t84"><text x="889" y="1784">Rootsucker (Palatops spp.)</text></g>
<g id="t85"><text x="889" y="1802.5">Meaching (Nixocricetus lemmomorphus)</text></g>
<g id="t86"><text x="889" y="1821">Desert Leaper (Aquator adepsicautus)</text></g>
<g id="t87"><text x="889" y="1839.5">Sand Flapjack (Platycaudatus structor)</text></g>
<g id="t88"><text x="889" y="1859">Beaver (Ankylocastor europaeus gen. et sp. nov.)</text></g>
<g id="t89"><text x="889" y="1877.5">Mud-Gulper (Phocapotamus lutuphagus)</text></g>
<g id="t90"><text x="889" y="1896">Tapimus (Tapimus maximus)</text></g>
<g id="t91"><text x="889" y="1914.5">Distarterops (Scinderedens solungulus)</text></g>
<g id="t92"><text x="889" y="1933">Pytheron (Thalassomus piscevorus)</text></g>
<g id="t93"><text x="889" y="1952">Bardelot (Smilomys atrox)</text></g>
<g id="t94"><text x="889" y="1970.5">Ravene (Vulpemys ferox)</text></g>
<g id="t95"><text x="889" y="1989">Polar Ravene (Vulpemys albulus)</text></g>
<g id="t96"><text x="889" y="2007.5">Janiset (Viverinus brevipes)</text></g>
<g id="t97"><text x="889" y="2026">Falanx (Amphimorphodus cynomorphus)</text></g>
<g id="t98"><text x="889" y="2045">Rapide (Amphimorphodus longipes)</text></g>
<g id="t99"><text x="889" y="2064.5">Leaping Devil (Daemonopus rotundus)</text></g>
<g id="t100"><text x="889" y="2083">Spitting Featherfoot (Pennapus saltans)</text></g>
<g id="t101"><text x="889" y="2101.5">Terratail (Ophiocaudatus insulatus)</text></g>
<g id="t102"><text x="889" y="2120">Spine-tailed squirrel (Humisciurus spinacaudatus)</text></g>
<g id="t103"><text x="889" y="2138.5">Chiselhead (Tenebra vermiforme)</text></g>
<g id="t104"><text x="889" y="2157">Chirit (Tendesciurus rufus)</text></g>
<g id="t105"><text x="889" y="2175.5">Trevel (Scandemys longicaudata)</text></g>
<g id="t106"><text x="889" y="2196">Reedstilt (Harundopes virgatus)</text></g>
<g id="t107"><text x="889" y="2214.5">Ginger Reedstilt (Harundopes asiaticus, sp. nov.)</text></g>
<g id="t108"><text x="889" y="2241">Tusked Mole (Scalprodens talpiforme)</text></g>
<g id="t109"><text x="889" y="2259.5">Khilla (Carnosuncus pilopodus)</text></g>
<g id="t110"><text x="889" y="2278">Shrock (Melesuncus sylvatius)</text></g>
<g id="t111"><text x="889" y="2297.5">Desert Shark (Psammonarus spp.)</text></g>
<g id="t112"><text x="889" y="2316">Parashrew (Pennatacaudus volitarius)</text></g>
<g id="t113"><text x="889" y="2334.5">Tree-Drummer (Proboscisuncus spp.)</text></g>
<g id="t114"><text x="889" y="2353">Truteal (Terebradens tubauris)</text></g>
<g id="t115"><text x="889" y="2371.5">Trovamp (Hirudatherium saltans)</text></g>
<g id="t116"><text x="889" y="2390">Purrip Bat (Caecopterus spp.)</text></g>
<g id="t117"><text x="889" y="2416.5">Flightless Shalloth (Arboverspertilio apteryx)</text></g>
<g id="t118"><text x="889" y="2436">Surfbat (Remala madipella)</text></g>
<g id="t119"><text x="889" y="2454.5">Flooer (Florifacies mirabila)</text></g>
<g id="t120"><text x="889" y="2473">Nightstalker (Manambulus perhorridus)</text></g>
<g id="t121"><text x="889" y="2491.5">Pallid Nightstalker (Manambulus pallidus sp. nov.)</text></g>
<g id="t122"><text x="889" y="2518.3">Striger (Saevitia feliforme)</text></g>
<g id="t123"><text x="889" y="2537">Ghole (Pallidogale nudicollum)</text></g>
<g id="t124"><text x="889" y="2555.5">Gurrath (Oncherpestes fodrhami)</text></g>
<g id="t125"><text x="889" y="2574">Nightglider (Hastatus volans)</text></g>
<g id="t126"><text x="889" y="2593">Pamthret (Vulpemustela acer)</text></g>
<g id="t127"><text x="889" y="2611.5">Shurrack (Oromustela altifera)</text></g>
<g id="t128"><text x="889" y="2630">Turmi (Formicederus paladens)</text></g>
<g id="t129"><text x="889" y="2648.5">Zarander (Procerosus elephanasus)</text></g>
<g id="t130"><text x="889" y="2667">Cleft-back Antelope (Castratragus grandiceros)</text></g>
<g id="t131"><text x="889" y="2686">Valluphant (Valudorsum gravum)</text></g>
<g id="t132"><text x="889" y="2705">Snorke (Lepidonasus lemuriensis)</text></g>
<g id="t133"><text x="889" y="2723.7">Long-necked Yippa (Altocephalus saddi)</text></g>
<g id="t134"><text x="889" y="2743">Long-necked gigantelope (Grandidorcas roeselmivi)</text></g>
<g id="t135"><text x="889" y="2761.5">Rundihorn (Tetraceras africanus)</text></g>
<g id="t136"><text x="889" y="2780">African Gigantelope (Megalodorcas giganteus)</text></g>
<g id="t137"><text x="889" y="2798.5">Woolly Gigantelope (Megalodorcas borealis)</text></g>
<g id="t138"><text x="889" y="2824.5">Water Hornhead (Rhamphocornudens rastrostrius gen. nov.)</text></g>
<g id="t139"><text x="889" y="2843">Common Hornhead (Cornudens vulgaris)</text></g>
<g id="t140"><text x="889" y="2861.5">Helmeted Hornhead (Epicornudens horridus gen. nov.)</text></g>
<g id="t141"><text x="889" y="2880">Lesser Helmeted Hornhead (Epicornudens minor gen. et sp. nov.)</text></g>
</g>
</svg>
